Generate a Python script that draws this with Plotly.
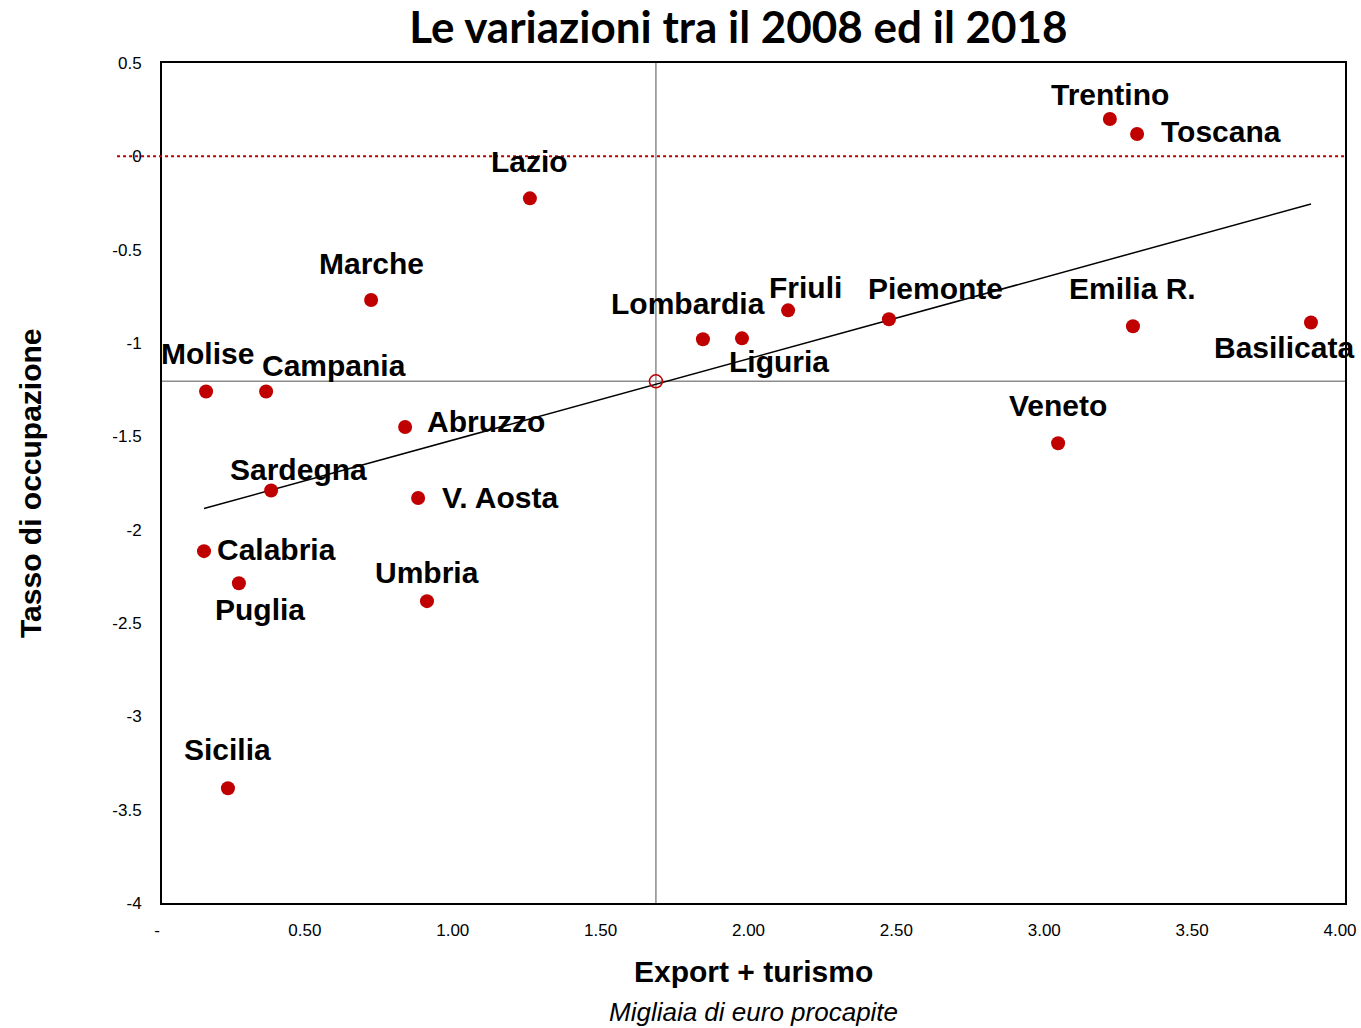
import numpy as np
import plotly.graph_objects as go

# ---- data ----
regioni = ["Trentino", "Toscana", "Lazio", "Marche", "Lombardia", "Liguria", "Friuli",
           "Piemonte", "Emilia R.", "Basilicata", "Molise", "Campania", "Abruzzo",
           "Sardegna", "V. Aosta", "Veneto", "Calabria", "Puglia", "Umbria", "Sicilia"]
export_turismo = [3.205, 3.297, 1.244, 0.707, 1.829, 1.961, 2.117, 2.458, 3.283, 3.885,
                  0.149, 0.352, 0.822, 0.369, 0.866, 3.030, 0.142, 0.260, 0.896, 0.223]
tasso_occupazione = [0.20, 0.12, -0.225, -0.77, -0.98, -0.975, -0.825, -0.873, -0.91, -0.89,
                     -1.26, -1.26, -1.45, -1.79, -1.83, -1.537, -2.115, -2.287, -2.383, -3.385]
italia_x = [1.67]
italia_y = [-1.205]

x_ticks = [0, 0.5, 1.0, 1.5, 2.0, 2.5, 3.0, 3.5, 4.0]
x_ticktext = ["-", "0.50", "1.00", "1.50", "2.00", "2.50", "3.00", "3.50", "4.00"]
y_ticks = [0.5, 0, -0.5, -1, -1.5, -2, -2.5, -3, -3.5, -4]
y_ticktext = ["0.5", "0", "-0.5", "-1", "-1.5", "-2", "-2.5", "-3", "-3.5", "-4"]

# label offsets (pixels) and anchors - style only
label_style = {
    "Trentino": (0, 25, "center"),
    "Toscana": (22, 2, "left"),
    "Lazio": (0, 37, "center"),
    "Marche": (0, 37, "center"),
    "Lombardia": (-15, 36, "center"),
    "Liguria": (-15, -23, "left"),
    "Friuli": (17, 23, "center"),
    "Piemonte": (47, 31, "center"),
    "Emilia R.": (0, 38, "center"),
    "Basilicata": (-27, -25, "center"),
    "Molise": (1, 38, "center"),
    "Campania": (-6, 26, "left"),
    "Abruzzo": (20, 6, "left"),
    "Sardegna": (-43, 21, "left"),
    "V. Aosta": (22, 0, "left"),
    "Veneto": (0, 38, "center"),
    "Calabria": (11, 2, "left"),
    "Puglia": (-26, -26, "left"),
    "Umbria": (0, 29, "center"),
    "Sicilia": (0, 39, "center"),
}

RED = "#c00000"
SANS = "Liberation Sans, Arial, sans-serif"

fig = go.Figure()

# trend line (OLS over the regions)
slope, intercept = np.polyfit(export_turismo, tasso_occupazione, 1)
xs = np.array([min(export_turismo), max(export_turismo)])
fig.add_trace(go.Scatter(x=xs, y=slope * xs + intercept, mode="lines",
                         line=dict(color="black", width=1.5), hoverinfo="skip",
                         showlegend=False))

fig.add_trace(go.Scatter(x=export_turismo, y=tasso_occupazione, mode="markers",
                         marker=dict(color=RED, size=14), text=regioni,
                         showlegend=False))
fig.add_trace(go.Scatter(x=italia_x, y=italia_y, mode="markers",
                         marker=dict(color="rgba(0,0,0,0)", size=13,
                                     line=dict(color=RED, width=1.5)),
                         showlegend=False))

shapes = [
    dict(type="line", xref="x", yref="paper", x0=italia_x[0], x1=italia_x[0], y0=0, y1=1,
         line=dict(color="#8c8c8c", width=1.5), layer="below"),
    dict(type="line", xref="paper", yref="y", x0=0, x1=1, y0=italia_y[0], y1=italia_y[0],
         line=dict(color="#8c8c8c", width=1.5), layer="below"),
    dict(type="line", xref="paper", yref="y", x0=-0.038, x1=1, y0=0, y1=0,
         line=dict(color=RED, width=2, dash="dot")),
]

annotations = []
for name, x, y in zip(regioni, export_turismo, tasso_occupazione):
    dx, dy, anc = label_style[name]
    annotations.append(dict(x=x, y=y, xref="x", yref="y", text="<b>" + name + "</b>",
                            showarrow=False, xshift=dx, yshift=dy, xanchor=anc,
                            yanchor="middle",
                            font=dict(family=SANS, size=30, color="black")))

annotations += [
    dict(text="<b>Export + turismo</b>", xref="paper", yref="paper", x=0.5, y=-0.0821,
         xanchor="center", yanchor="middle", showarrow=False,
         font=dict(family=SANS, size=30, color="black")),
    dict(text="<i>Migliaia di euro procapite</i>", xref="paper", yref="paper", x=0.5, y=-0.1298,
         xanchor="center", yanchor="middle", showarrow=False,
         font=dict(family=SANS, size=26, color="black")),
    dict(text="<b>Tasso di occupazione</b>", xref="paper", yref="paper", x=-0.1116, y=0.5,
         xanchor="center", yanchor="middle", showarrow=False, textangle=-90,
         font=dict(family=SANS, size=30, color="black")),
]

fig.update_layout(
    width=1361, height=1028,
    margin=dict(l=162, r=16, t=63, b=125, autoexpand=False),
    paper_bgcolor="white", plot_bgcolor="white",
    title=dict(text="<b>Le variazioni tra il 2008 ed il 2018</b>", x=0.5426, xanchor="center",
               y=0.973, yref="container", yanchor="middle",
               font=dict(family="Lato, Open Sans, sans-serif", size=44, color="black")),
    shapes=shapes, annotations=annotations,
    xaxis=dict(range=[0, 4], tickvals=x_ticks, ticktext=x_ticktext, showgrid=False,
               zeroline=False, showline=True, mirror=True, linecolor="black", linewidth=2,
               ticks="", ticklabelstandoff=11, ticklabelshift=-5, automargin=False,
               tickfont=dict(family=SANS, size=17, color="black")),
    yaxis=dict(range=[-4, 0.5], tickvals=y_ticks, ticktext=y_ticktext, showgrid=False,
               zeroline=False, showline=True, mirror=True, linecolor="black", linewidth=2,
               ticks="", ticklabelstandoff=15, automargin=False,
               tickfont=dict(family=SANS, size=17, color="black")),
)

fig.write_html("out.html", config={"displayModeBar": False},
               post_script="document.body.style.margin='0';document.body.style.padding='0';")
